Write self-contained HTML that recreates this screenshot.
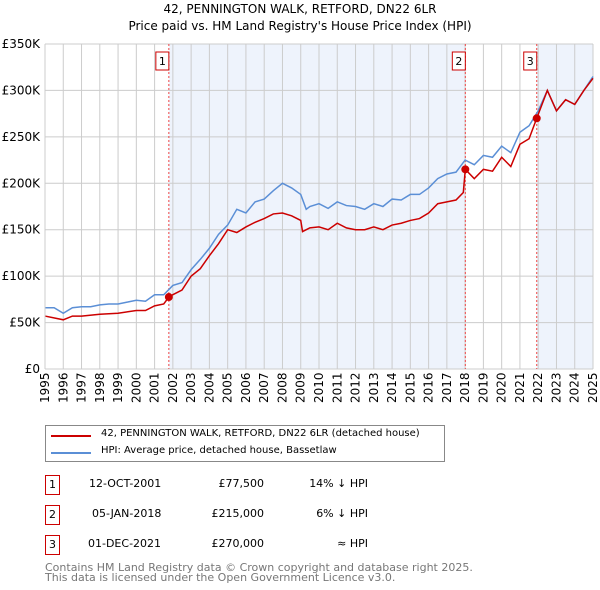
<!DOCTYPE html>
<html><head><meta charset="utf-8"><style>
body{margin:0;background:#fff;font-family:"DejaVu Sans","Liberation Sans",sans-serif;}
#wrap{position:relative;width:600px;height:590px;overflow:hidden;}
.t{position:absolute;font-size:11px;color:#000;white-space:nowrap;}
.box{position:absolute;width:13px;height:18px;border:1px solid #c00;font-size:11px;text-align:center;line-height:18px;}
</style></head><body>
<div id="wrap">
<div class="t" style="left:0;width:600px;text-align:center;top:2px;font-size:12px">42, PENNINGTON WALK, RETFORD, DN22 6LR</div>
<div class="t" style="left:0;width:600px;text-align:center;top:19px;font-size:12px">Price paid vs. HM Land Registry's House Price Index (HPI)</div>
<svg id="chart" width="600" height="420" style="position:absolute;left:0;top:0"></svg>
<div style="position:absolute;left:45px;top:425px;width:398px;height:35px;border:1px solid #888">
 <div style="position:absolute;left:5px;top:9px;width:40px;height:2px;background:#c00"></div>
 <div class="t" style="left:55px;top:2px;font-size:10px">42, PENNINGTON WALK, RETFORD, DN22 6LR (detached house)</div>
 <div style="position:absolute;left:5px;top:26px;width:40px;height:2px;background:#5b8fd6"></div>
 <div class="t" style="left:55px;top:19px;font-size:10px">HPI: Average price, detached house, Bassetlaw</div>
</div>
<div>
<div class="box" style="left:45px;top:475px">1</div>
<div class="t" style="left:89px;top:477px">12-OCT-2001</div>
<div class="t" style="left:190px;width:74px;text-align:right;top:477px">£77,500</div>
<div class="t" style="left:290px;width:78px;text-align:right;top:477px">14% ↓ HPI</div>
<div class="box" style="left:45px;top:505px">2</div>
<div class="t" style="left:92px;top:507px">05-JAN-2018</div>
<div class="t" style="left:190px;width:74px;text-align:right;top:507px">£215,000</div>
<div class="t" style="left:290px;width:78px;text-align:right;top:507px">6% ↓ HPI</div>
<div class="box" style="left:45px;top:535px">3</div>
<div class="t" style="left:88px;top:537px">01-DEC-2021</div>
<div class="t" style="left:190px;width:74px;text-align:right;top:537px">£270,000</div>
<div class="t" style="left:290px;width:78px;text-align:right;top:537px">≈ HPI</div>
</div>
<div class="t" style="left:45px;top:563px;color:#777;font-size:11px;line-height:10px">Contains HM Land Registry data © Crown copyright and database right 2025.<br>This data is licensed under the Open Government Licence v3.0.</div>
</div>
<script>
const years=[1995,1996,1997,1998,1999,2000,2001,2002,2003,2004,2005,2006,2007,2008,2009,2010,2011,2012,2013,2014,2015,2016,2017,2018,2019,2020,2021,2022,2023,2024,2025];
const yTicks=[0,50000,100000,150000,200000,250000,300000,350000];
const yTickLabels=["£0","£50K","£100K","£150K","£200K","£250K","£300K","£350K"];
const hpiDates=[1995,1995.5,1996,1996.5,1997,1997.5,1998,1998.5,1999,1999.5,2000,2000.5,2001,2001.5,2002,2002.5,2003,2003.5,2004,2004.5,2005,2005.5,2006,2006.5,2007,2007.5,2008,2008.5,2009,2009.3,2009.5,2010,2010.5,2011,2011.5,2012,2012.5,2013,2013.5,2014,2014.5,2015,2015.5,2016,2016.5,2017,2017.5,2018,2018.5,2019,2019.5,2020,2020.5,2021,2021.5,2022,2022.5,2023,2023.5,2024,2024.5,2025];
const hpiValues=[66,66,60,66,67,67,69,70,70,72,74,73,80,80,90,93,107,118,130,145,155,172,168,180,183,192,200,195,188,172,175,178,173,180,176,175,172,178,175,183,182,188,188,195,205,210,212,225,220,230,228,240,233,255,262,278,300,278,290,285,300,315];
const ppDates=[1995,1996,1996.5,1997,1998,1999,2000,2000.5,2001,2001.5,2001.78,2002,2002.5,2003,2003.5,2004,2004.5,2005,2005.5,2006,2006.5,2007,2007.5,2008,2008.5,2009,2009.1,2009.5,2010,2010.5,2011,2011.5,2012,2012.5,2013,2013.5,2014,2014.5,2015,2015.5,2016,2016.5,2017,2017.5,2017.9,2018.01,2018.5,2019,2019.5,2020,2020.5,2021,2021.5,2021.92,2022.5,2023,2023.5,2024,2024.5,2025];
const ppValues=[57,53,57,57,59,60,63,63,68,70,77.5,80,85,100,108,122,135,150,147,153,158,162,167,168,165,160,148,152,153,150,157,152,150,150,153,150,155,157,160,162,168,178,180,182,190,215,205,215,213,228,218,242,248,270,300,278,290,285,300,313];
const saleDates=[2001.78,2018.01,2021.92];
const saleValues=[77.5,215,270];
const saleLabels=["1","2","3"];
const X0=45,X1=593,Y0=369,Y1=44;
const sx=t=>X0+(t-1995)/(2025-1995)*(X1-X0);
const sy=v=>Y0-v/350000*(Y0-Y1);
const svg=document.getElementById('chart');const NS='http://www.w3.org/2000/svg';
const FF='DejaVu Sans, Liberation Sans, sans-serif';
function mk(tag,attrs){const e=document.createElementNS(NS,tag);for(const k in attrs)e.setAttribute(k,attrs[k]);svg.appendChild(e);return e;}
let e;
e=mk('rect',{x:sx(saleDates[0]),y:Y1,width:sx(saleDates[1])-sx(saleDates[0]),height:Y0-Y1,fill:'#eef3fc'});


e=mk('rect',{x:sx(saleDates[2]),y:Y1,width:X1-sx(saleDates[2]),height:Y0-Y1,fill:'#eef3fc'});


years.forEach(y=>{e=mk('line',{x1:sx(y),x2:sx(y),y1:Y1,y2:Y0,stroke:'#ccc','stroke-width':1});


e=mk('text',{x:0,y:0,transform:`translate(${sx(y)+4},${Y0+34}) rotate(-90)`,'font-size':12,'font-family':FF});e.textContent=y;

});
yTicks.forEach((v,i)=>{e=mk('line',{x1:X0,x2:X1,y1:sy(v),y2:sy(v),stroke:'#ccc','stroke-width':1});


e=mk('text',{x:X0-5,y:sy(v)+4,'text-anchor':'end','font-size':12,'font-family':FF});e.textContent=yTickLabels[i];

});
saleDates.forEach((d,i)=>{e=mk('line',{x1:sx(d),x2:sx(d),y1:Y1,y2:Y0,stroke:'#e44','stroke-width':1,'stroke-dasharray':'2,2'});


e=mk('rect',{x:sx(d)-13,y:Y1+8,width:13,height:18,fill:'#fff',stroke:'#c00'});


e=mk('text',{x:sx(d)-6.5,y:Y1+21,'text-anchor':'middle','font-size':11,'font-family':FF});e.textContent=saleLabels[i];

});
e=mk('polyline',{points:hpiDates.map((d,i)=>sx(d)+','+sy(hpiValues[i]*1000)).join(' '),fill:'none',stroke:'#5b8fd6','stroke-width':1.5});


e=mk('polyline',{points:ppDates.map((d,i)=>sx(d)+','+sy(ppValues[i]*1000)).join(' '),fill:'none',stroke:'#c00','stroke-width':1.5});


saleDates.forEach((d,i)=>{e=mk('circle',{cx:sx(d),cy:sy(saleValues[i]*1000),r:4,fill:'#c00'});

});
e=mk('line',{x1:X0,x2:X0,y1:Y1,y2:Y0,stroke:'#ccc'});


</script>
</body></html>
